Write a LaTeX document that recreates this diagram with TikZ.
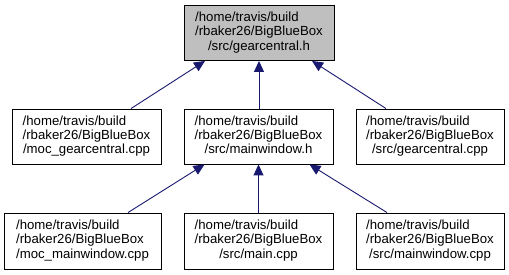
\documentclass[tikz,border=0pt]{standalone}
\usepackage{fontspec}
\setmainfont{Liberation Sans}
\usetikzlibrary{arrows.meta}
\definecolor{edgeblue}{HTML}{191970}
\definecolor{focusgray}{HTML}{BFBFBF}
% three-line file label: first lines flush left, last line centred
\newcommand{\filelabel}[3]{\begin{tabular}{@{}l@{}}#1\\#2\\\multicolumn{1}{@{}c@{}}{#3}\end{tabular}}
\begin{document}
\begin{tikzpicture}[x=1pt,y=1pt,
  filebox/.style={draw=black, line width=0.9pt, fill=white, inner sep=0pt,
    minimum width=149pt, minimum height=55pt,
    font=\fontsize{13.2}{14.2}\selectfont},
  focusbox/.style={filebox, fill=focusgray},
  dep/.style={draw=edgeblue, line width=0.9pt,
    {Triangle[length=11pt,width=10pt]}-}]
\useasboundingbox (0,0) rectangle (509,-275);

\node[focusbox, minimum width=150pt] (gc) at (259,-33)
  {\filelabel{/home/travis/build}{/rbaker26/BigBlueBox}{/src/gearcentral.h}};

\node[filebox] (mocgc) at (86.5,-136.5)
  {\filelabel{/home/travis/build}{/rbaker26/BigBlueBox}{/moc\_gearcentral.cpp}};
\node[filebox] (mwh) at (258.5,-136.5)
  {\filelabel{/home/travis/build}{/rbaker26/BigBlueBox}{/src/mainwindow.h}};
\node[filebox, minimum width=148pt] (gccpp) at (430,-136.5)
  {\filelabel{/home/travis/build}{/rbaker26/BigBlueBox}{/src/gearcentral.cpp}};

\node[filebox, minimum width=157pt, minimum height=56pt] (mocmw) at (82.5,-241)
  {\filelabel{/home/travis/build}{/rbaker26/BigBlueBox}{/moc\_mainwindow.cpp}};
\node[filebox, minimum height=56pt] (maincpp) at (258.5,-241)
  {\filelabel{/home/travis/build}{/rbaker26/BigBlueBox}{/src/main.cpp}};
\node[filebox, minimum width=148pt, minimum height=56pt] (mwcpp) at (430,-241)
  {\filelabel{/home/travis/build}{/rbaker26/BigBlueBox}{/src/mainwindow.cpp}};

\draw[dep] ([xshift=-54pt]gc.south) -- ([xshift=44.5pt]mocgc.north);
\draw[dep] (gc.south) -- (gc.south |- mwh.north);
\draw[dep] ([xshift=53pt]gc.south) -- ([xshift=-44pt]gccpp.north);

\draw[dep] ([xshift=-54pt]mwh.south) -- ([xshift=45.5pt]mocmw.north);
\draw[dep] (mwh.south) -- (maincpp.north);
\draw[dep] ([xshift=51pt]mwh.south) -- ([xshift=-43pt]mwcpp.north);
\end{tikzpicture}
\end{document}
